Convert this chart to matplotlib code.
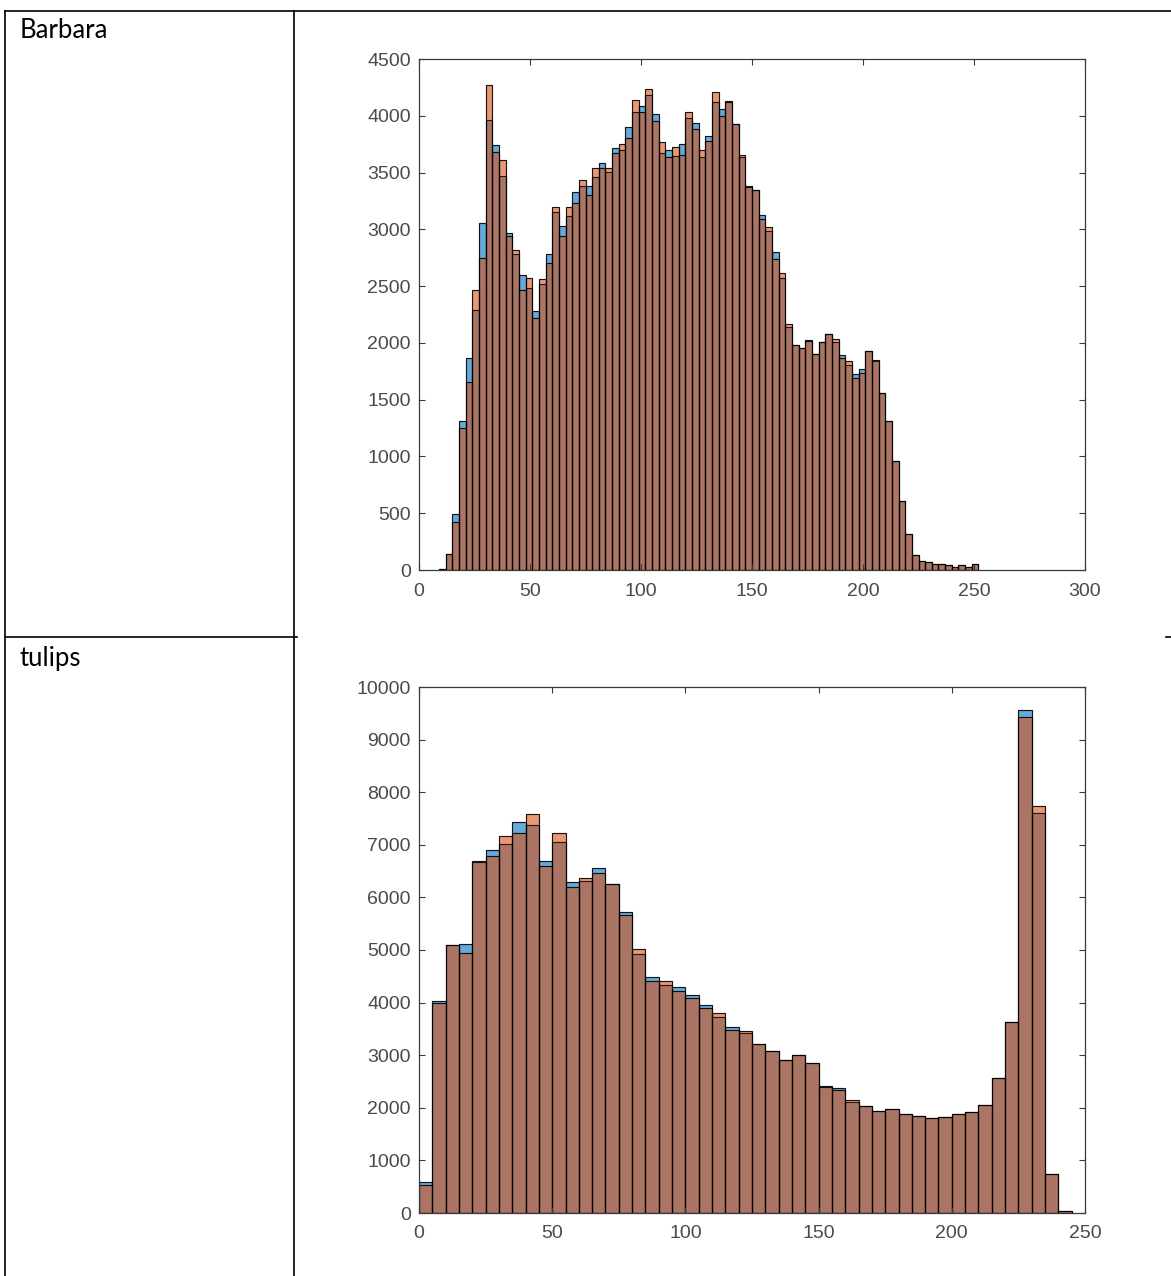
import numpy as np
import matplotlib
matplotlib.use("Agg")
import matplotlib.pyplot as plt
from matplotlib.lines import Line2D

# ---- data ----
# Barbara: bin width 3, first bin starts at 9
barbara_start = 9
barbara_width = 3
barbara_blue = [12, 143, 495, 1311, 1865, 2291, 3060, 3960, 3745, 3468,
                2965, 2783, 2598, 2485, 2285, 2515, 2783, 3150, 3030, 3120,
                3328, 3382, 3379, 3457, 3582, 3507, 3716, 3701, 3903, 4029,
                4088, 4184, 4014, 3671, 3695, 3647, 3754, 3978, 3933, 3635,
                3826, 4118, 4058, 4127, 3924, 3635, 3379, 3343, 3129, 2986,
                2798, 2568, 2136, 1979, 1955, 2026, 1898, 2008, 2077, 2008,
                1892, 1809, 1725, 1770, 1928, 1838, 1555, 1311, 960, 610,
                317, 135, 82, 67, 56, 53, 41, 29, 41, 29, 50]
barbara_orange = [12, 143, 423, 1251, 1654, 2470, 2747, 4273, 3680, 3611,
                  2941, 2822, 2470, 2574, 2220, 2560, 2703, 3194, 2941, 3194,
                  3230, 3433, 3299, 3537, 3537, 3537, 3671, 3754, 3805, 4142,
                  4035, 4237, 3954, 3766, 3635, 3727, 3656, 4037, 3886, 3695,
                  3775, 4207, 3999, 4120, 3924, 3656, 3375, 3343, 3090, 3022,
                  2741, 2613, 2166, 1979, 1955, 2020, 1898, 2008, 2077, 2038,
                  1868, 1838, 1690, 1734, 1928, 1853, 1555, 1311, 960, 610,
                  317, 135, 82, 67, 56, 53, 41, 29, 41, 29, 50]

# tulips: bin width 5, first bin starts at 0
tulips_start = 0
tulips_width = 5
tulips_blue = [580, 4030, 5090, 5120, 6680, 6910, 7010, 7430, 7380, 6700,
               7050, 6290, 6310, 6560, 6260, 5730, 4920, 4480, 4340, 4290,
               4150, 3950, 3730, 3540, 3420, 3220, 3080, 2900, 3010, 2860,
               2410, 2380, 2110, 2030, 1940, 1970, 1880, 1850, 1800, 1820,
               1880, 1920, 2050, 2570, 3630, 9560, 7610, 735, 30]
tulips_orange = [530, 4000, 5090, 4940, 6700, 6790, 7160, 7230, 7580, 6590,
                 7230, 6190, 6360, 6470, 6260, 5670, 5010, 4420, 4420, 4220,
                 4080, 3900, 3810, 3480, 3460, 3220, 3080, 2900, 3010, 2860,
                 2400, 2330, 2150, 2030, 1940, 1970, 1880, 1850, 1800, 1820,
                 1880, 1920, 2050, 2570, 3630, 9430, 7730, 735, 30]

row_labels = ["Barbara", "tulips"]

W, H = 1171, 1276
fig = plt.figure(figsize=(W / 100, H / 100), dpi=100)
fig.patch.set_facecolor("white")

BLUE = (0.0, 0.447, 0.741)
ORANGE = (0.85, 0.325, 0.098)
AXC = "#3a3a3a"


def px_rect(left, top, right, bottom):
    return [left / W, 1 - bottom / H, (right - left) / W, (bottom - top) / H]


def hist_panel(rect, start, width, blue, orange, xlim, xticks, ylim, yticks):
    ax = fig.add_axes(rect)
    x = start + width * np.arange(len(blue))
    for vals, col in ((blue, BLUE), (orange, ORANGE)):
        ax.bar(x, vals, width=width, align="edge", color=col, alpha=0.6,
               edgecolor="black", linewidth=0.8)
    # redraw edges fully opaque like MATLAB histogram
    for vals in (blue, orange):
        ax.bar(x, vals, width=width, align="edge", fill=False,
               edgecolor="black", linewidth=0.8, alpha=0.75)
    ax.set_xlim(*xlim)
    ax.set_ylim(*ylim)
    ax.set_xticks(xticks)
    ax.set_yticks(yticks)
    ax.tick_params(direction="in", length=4, width=0.8, colors=AXC,
                   top=True, right=True, labelsize=14)
    ax.tick_params(axis="x", pad=9)
    ax.tick_params(axis="y", pad=6)
    for lab in ax.get_xticklabels() + ax.get_yticklabels():
        lab.set_fontfamily("Liberation Sans")
        lab.set_color("#4a4a4a")
    for s in ax.spines.values():
        s.set_color(AXC)
        s.set_linewidth(0.9)
    return ax


hist_panel(px_rect(419, 59, 1085, 570), barbara_start, barbara_width,
           barbara_blue, barbara_orange, (0, 300), np.arange(0, 301, 50),
           (0, 4500), np.arange(0, 4501, 500))
hist_panel(px_rect(419, 687, 1085, 1213), tulips_start, tulips_width,
           tulips_blue, tulips_orange, (0, 250), np.arange(0, 251, 50),
           (0, 10000), np.arange(0, 10001, 1000))

# table borders
def hline(y, x0, x1):
    fig.add_artist(Line2D([x0 / W, x1 / W], [1 - y / H, 1 - y / H],
                          color="black", linewidth=1.2))


def vline(x, y0, y1):
    fig.add_artist(Line2D([x / W, x / W], [1 - y0 / H, 1 - y1 / H],
                          color="black", linewidth=1.2))


hline(11, 5, 1171)
vline(5, 11, 1276)
vline(294, 11, 1276)
hline(637, 5, 297)
hline(637, 1166, 1171)

fig.text(20 / W, 1 - 31 / H, row_labels[0], fontsize=18.5, family="Lato",
         va="center", ha="left", color="black")
fig.text(20 / W, 1 - 659 / H, row_labels[1], fontsize=18.5, family="Lato",
         va="center", ha="left", color="black")

fig.savefig("out.png", dpi=100)
